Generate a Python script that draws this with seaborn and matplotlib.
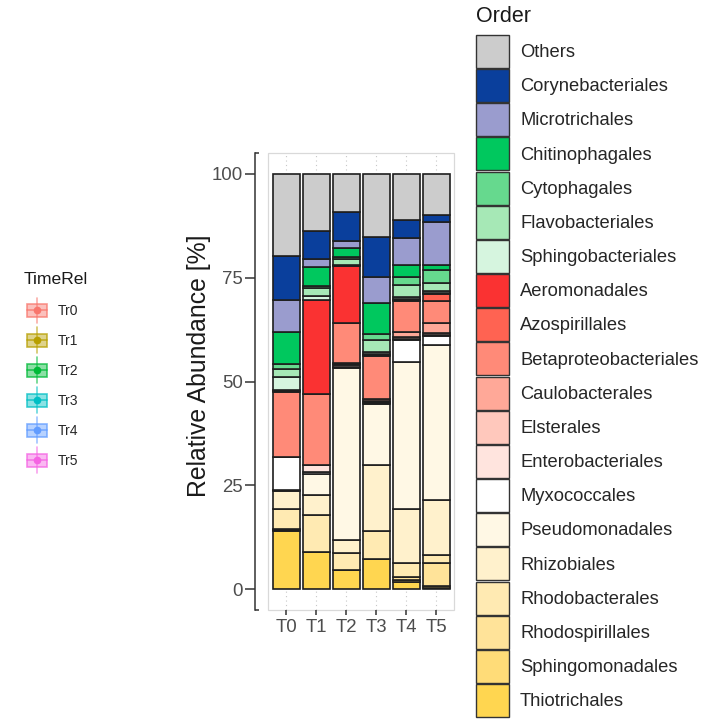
import numpy as np
import pandas as pd
import matplotlib
matplotlib.use("Agg")
import matplotlib.pyplot as plt
import seaborn as sns
from matplotlib.patches import Patch, Rectangle
from matplotlib.lines import Line2D
from matplotlib.legend_handler import HandlerBase
from matplotlib.colors import to_rgba
from matplotlib.transforms import offset_copy

times = ["T0", "T1", "T2", "T3", "T4", "T5"]
time_rel = ["Tr0", "Tr1", "Tr2", "Tr3", "Tr4", "Tr5"]
time_colors = ["#F8766D", "#B79F00", "#00BA38", "#00BFC4", "#619CFF", "#F564E3"]

# legend order = top of the stack first
orders = ["Others", "Corynebacteriales", "Microtrichales", "Chitinophagales",
          "Cytophagales", "Flavobacteriales", "Sphingobacteriales", "Aeromonadales",
          "Azospirillales", "Betaproteobacteriales", "Caulobacterales", "Elsterales",
          "Enterobacteriales", "Myxococcales", "Pseudomonadales", "Rhizobiales",
          "Rhodobacterales", "Rhodospirillales", "Sphingomonadales", "Thiotrichales"]
order_colors = ["#CCCCCC", "#0A3F9C", "#9A9CCE", "#00C85E", "#66D98E", "#A6E8B6",
                "#D6F5DF", "#FA3232", "#FF6352", "#FF8A78", "#FFA898", "#FFC8BC",
                "#FFE4DE", "#FFFFFF", "#FFF8E5", "#FFF1CC", "#FFEAB2", "#FFE399",
                "#FFDC78", "#FFD650"]

# relative abundance [%] per order, T0..T5
others = [19.7, 13.7, 9.3, 15.1, 11.2, 9.9]
coryne = [10.8, 6.8, 7.0, 9.7, 4.3, 1.7]
micro = [7.6, 2.0, 1.6, 6.4, 6.4, 10.3]
chitino = [7.8, 4.4, 2.2, 7.3, 2.9, 1.2]
cyto = [1.0, 0.6, 0.4, 1.4, 2.0, 3.2]
flavo = [1.9, 2.0, 1.4, 3.1, 2.9, 2.0]
sphingobac = [3.3, 1.0, 0.4, 0.3, 0.4, 0.4]
aero = [0.2, 22.6, 13.6, 0.3, 0.3, 0.3]
azo = [0.2, 0.0, 0.0, 0.3, 0.3, 1.6]
beta = [15.6, 16.9, 9.6, 10.3, 7.4, 5.3]
caulo = [0.0, 0.0, 0.3, 0.5, 1.2, 2.4]
elster = [0.0, 0.0, 0.3, 0.2, 0.4, 0.4]
entero = [0.0, 1.7, 0.5, 0.2, 0.2, 0.4]
myxo = [7.9, 0.5, 0.1, 0.2, 5.4, 2.2]
pseudo = [0.4, 5.2, 41.4, 14.7, 35.5, 37.3]
rhizo = [4.4, 4.8, 3.2, 16.0, 12.8, 13.2]
rhodobac = [4.7, 8.8, 4.1, 6.8, 3.4, 1.8]
rhodospir = [0.3, 0.0, 0.0, 0.0, 0.8, 5.6]
sphingomon = [0.2, 0.0, 0.0, 0.0, 0.4, 0.4]
thio = [14.0, 9.0, 4.6, 7.2, 1.8, 0.4]

series = [others, coryne, micro, chitino, cyto, flavo, sphingobac, aero, azo, beta,
          caulo, elster, entero, myxo, pseudo, rhizo, rhodobac, rhodospir,
          sphingomon, thio]

rows = []
for name, vals in zip(orders, series):
    for i, v in enumerate(vals):
        rows.append({"pos": i, "Order": name, "Abundance": v})
df = pd.DataFrame(rows)


class BoxKey(HandlerBase):
    # little boxplot glyph like the ggplot key
    def create_artists(self, legend, orig_handle, xdescent, ydescent,
                       width, height, fontsize, trans):
        c = orig_handle.get_color()
        x0, y0 = -xdescent, -ydescent
        cx, cy = x0 + width / 2, y0 + height / 2
        bh = height * 0.5
        whisk = Line2D([cx, cx], [y0, y0 + height], color=to_rgba(c, 0.6), lw=1.2)
        box = Rectangle((x0, cy - bh / 2), width, bh, facecolor=to_rgba(c, 0.45),
                        edgecolor=to_rgba(c, 0.75), lw=1.2)
        med = Line2D([x0, x0 + width], [cy, cy], color=to_rgba(c, 0.75), lw=1.2)
        dot = Line2D([cx], [cy], marker="o", ms=4.5, color=c, lw=0)
        arts = [whisk, box, med, dot]
        for a in arts:
            a.set_transform(trans)
        return arts


sns.set_theme(style="white")
plt.rcParams["font.family"] = ["Liberation Sans", "DejaVu Sans"]

fig = plt.figure(figsize=(7.12, 7.21), dpi=100)
ax = fig.add_axes([268 / 712, 111 / 721, 186 / 712, 457 / 721])

sns.histplot(data=df, x="pos", weights="Abundance", hue="Order", hue_order=orders,
             palette=order_colors, multiple="stack", discrete=True, shrink=0.9,
             edgecolor="#1E1E1E", linewidth=1.2, alpha=1, legend=False, ax=ax)

ax.set_xlim(-0.6, 5.6)
ax.set_ylim(-5, 105)
ax.set_xticks(range(len(times)), times)
ax.set_yticks([0, 25, 50, 75, 100])
ax.set_xlabel("")
ax.set_ylabel("Relative Abundance [%]", fontsize=17.8, color="#1A1A1A")
ax.yaxis.set_label_coords(-0.306, 0.534)

ax.grid(axis="x", linestyle=(0, (1, 3)), color="#C8C8C8", linewidth=0.8)
ax.grid(axis="y", visible=False)
ax.set_axisbelow(True)

for s in ["top", "right", "bottom"]:
    ax.spines[s].set_visible(False)
ax.add_patch(Rectangle((0, 0), 1, 1, transform=ax.transAxes, fill=False,
                       edgecolor="#D9D9D9", linewidth=0.9, clip_on=False, zorder=0))
ax.spines["left"].set_position(("outward", 13 * 72 / 100))
ax.spines["left"].set_color("#333333")
ax.spines["left"].set_linewidth(1.1)
cap = offset_copy(ax.transAxes, fig=fig, x=-13, y=0, units="dots")
for yy in (0, 1):
    ax.plot([0, 4 / 186], [yy, yy], transform=cap, color="#333333", lw=1.1,
            clip_on=False, solid_capstyle="butt")

ax.tick_params(axis="y", length=7.2, width=1.1, color="#333333", pad=1.5,
               labelsize=13.4, labelcolor="#4D4D4D", left=True)
ax.tick_params(axis="x", length=3.6, width=1.1, color="#333333", pad=3,
               labelsize=13.4, labelcolor="#4D4D4D", bottom=True)

# Order legend (title drawn as plain text so the gap can be set)
fig.text(476 / 712, 1 - 22 / 721, "Order", fontsize=15.5, color="#1A1A1A", va="baseline")
order_handles = [Patch(facecolor=c, edgecolor="#333333", linewidth=1.0) for c in order_colors]
fig.legend(order_handles, orders, loc="upper left", bbox_to_anchor=(476 / 712, 1 - 35 / 721),
           frameon=False, fontsize=13.2, handlelength=1.8, handleheight=2.39,
           labelspacing=0.065, handletextpad=0.6, borderpad=0, borderaxespad=0)

fig.text(24 / 712, 1 - 283.5 / 721, "TimeRel", fontsize=12.6, color="#1A1A1A", va="baseline")
time_handles = [Line2D([], [], color=c) for c in time_colors]
fig.legend(time_handles, time_rel, loc="upper left", bbox_to_anchor=(26.5 / 712, 1 - 297.5 / 721),
           frameon=False, fontsize=10, handler_map={Line2D: BoxKey()}, handlelength=1.5,
           handleheight=2.5, labelspacing=0.288, handletextpad=0.72, borderpad=0,
           borderaxespad=0)

fig.savefig("out.png", dpi=100)
